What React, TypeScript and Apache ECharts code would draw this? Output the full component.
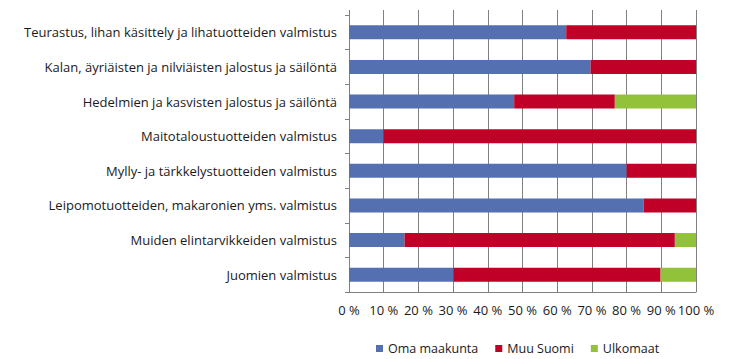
import React, { useEffect, useRef } from "react";
import * as echarts from "echarts";

const categories = [
  "Teurastus, lihan käsittely ja lihatuotteiden valmistus",
  "Kalan, äyriäisten ja nilviäisten jalostus ja säilöntä",
  "Hedelmien ja kasvisten jalostus ja säilöntä",
  "Maitotaloustuotteiden valmistus",
  "Mylly- ja tärkkelystuotteiden valmistus",
  "Leipomotuotteiden, makaronien yms. valmistus",
  "Muiden elintarvikkeiden valmistus",
  "Juomien valmistus",
];
const omaMaakunta = [62.6, 69.6, 47.6, 9.9, 80.0, 84.9, 16.0, 30.1];
const muuSuomi = [37.4, 30.4, 29.0, 90.1, 20.0, 15.1, 77.9, 59.7];
const ulkomaat = [0, 0, 23.4, 0, 0, 0, 6.1, 10.2];
const seriesNames = ["Oma maakunta", "Muu Suomi", "Ulkomaat"];
const colors = ["#5470B0", "#C00027", "#92C13A"];

export default function App() {
  const ref = useRef<HTMLDivElement>(null);
  useEffect(() => {
    if (!ref.current) return;
    const chart = echarts.init(ref.current, undefined, { renderer: "svg" });
    const font = "'Open Sans', sans-serif";
    const grid = "#808080";
    const data = [omaMaakunta, muuSuomi, ulkomaat];
    chart.setOption({
      animation: false,
      textStyle: { fontFamily: font },
      grid: { left: 349, right: 50, top: 15, bottom: 67 },
      legend: {
        left: 371,
        top: 337,
        itemWidth: 7,
        itemHeight: 7,
        itemGap: 17,
        icon: "rect",
        textStyle: { fontSize: 12.5, color: "#1a1a1a", fontFamily: font },
        data: seriesNames,
      },
      xAxis: [
        {
          type: "value",
          min: 0,
          max: 100,
          interval: 10,
          axisLine: { show: true, lineStyle: { color: grid } },
          axisTick: { show: false },
          splitLine: { show: true, lineStyle: { color: grid, width: 1 } },
          axisLabel: { formatter: "{value} %", fontSize: 13, color: "#1a1a1a", margin: 11 },
        },
        {
          type: "value",
          position: "top",
          min: 0,
          max: 100,
          interval: 10,
          axisLine: { show: false },
          axisTick: { show: true, length: 5, lineStyle: { color: grid } },
          splitLine: { show: false },
          axisLabel: { show: false },
        },
      ],
      yAxis: {
        type: "category",
        inverse: true,
        data: categories,
        axisLine: { show: true, lineStyle: { color: grid } },
        axisTick: { show: true, length: 4, lineStyle: { color: grid } },
        axisLabel: { fontSize: 13, color: "#1a1a1a", margin: 12, padding: [0, 0, 3, 0] },
      },
      series: seriesNames.map((name, i) => ({
        name,
        type: "bar",
        stack: "total",
        xAxisIndex: 0,
        barWidth: 14,
        data: data[i],
        itemStyle: { color: colors[i] },
      })),
    });
    return () => chart.dispose();
  }, []);
  return (
    <div
      ref={ref}
      style={{ position: "fixed", left: 0, top: 0, width: 746, height: 359, background: "#fff" }}
    />
  );
}
